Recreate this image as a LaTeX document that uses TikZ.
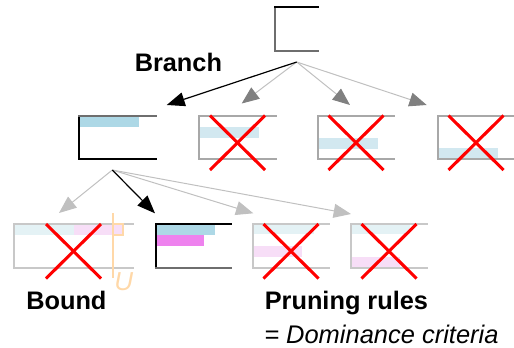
\documentclass[tikz,border=0pt]{standalone}
\usepackage{fontspec}
\setmainfont{Liberation Sans}
\usetikzlibrary{arrows.meta,calc}

\definecolor{barblue}{RGB}{173,216,230}
\definecolor{barblueF}{RGB}{210,232,240}
\definecolor{barcyanF}{RGB}{228,242,245}
\definecolor{barviolet}{RGB}{238,130,238}
\definecolor{barpinkF}{RGB}{247,222,247}
\definecolor{edgedark}{RGB}{110,110,110}
\definecolor{edgemid}{RGB}{168,168,168}
\definecolor{edgelight}{RGB}{200,200,200}
\definecolor{linklight}{RGB}{192,192,192}
\definecolor{headdark}{RGB}{128,128,128}
\definecolor{boundorange}{RGB}{255,216,168}

% open-right box: top, left and bottom edges of a slot node
\newcommand\bracketbox[2]{\draw[#2] (#1.north east) -- (#1.north west) -- (#1.south west) -- (#1.south east);}

\begin{document}
\begin{tikzpicture}[x=0.75pt,y=-0.75pt,
  slot/.style={rectangle,inner sep=0,outer sep=0,anchor=north west},
  edge/.style={line width=1.1pt,line cap=rect},
  cross/.style={draw=red,line width=2.3pt},
  lbl/.style={inner sep=0,anchor=base west,font=\fontsize{19pt}{22pt}\selectfont\bfseries},
  note/.style={inner sep=0,anchor=base west,font=\fontsize{19.1pt}{22pt}\selectfont\itshape},
  tipk/.style={-{Triangle[length=13.5pt,width=10.5pt]}},
  strong/.style={tipk,draw=black,line width=0.9pt},
  weakA/.style={-{Triangle[length=13pt,width=10.5pt,color=headdark]},draw=linklight,line width=0.75pt},
  weakB/.style={-{Triangle[length=13pt,width=10.5pt,color=linklight]},draw=linklight,line width=0.75pt}
]
\useasboundingbox (0,0) rectangle (514,347);

% slots
\node[slot,minimum width=32.25pt,minimum height=33pt] (r0) at (275,7) {};
\node[slot,minimum width=57.75pt,minimum height=32.25pt] (b1) at (79,116) {};
\node[slot,minimum width=57.75pt,minimum height=32.25pt] (b2) at (199,116) {};
\node[slot,minimum width=57pt,minimum height=32.25pt] (b3) at (318,116) {};
\node[slot,minimum width=57pt,minimum height=32.25pt] (b4) at (438,116) {};
\node[slot,minimum width=89.25pt,minimum height=33pt] (c1) at (14,224) {};
\node[slot,minimum width=56.25pt,minimum height=33pt] (c2) at (156,224) {};
\node[slot,minimum width=57pt,minimum height=33pt] (c3) at (253,224) {};
\node[slot,minimum width=57pt,minimum height=33pt] (c4) at (351,224) {};

% bars
\fill[barblue]  (b1.north west) rectangle +(60,11);
\fill[barblueF] ($(b2.north west)+(0,11)$) rectangle +(60,11);
\fill[barblueF] ($(b3.north west)+(0,22)$) rectangle +(60,11);
\fill[barblueF] ($(b4.north west)+(0,32)$) rectangle +(60,11);

\fill[barcyanF] (c1.north west) rectangle +(60,11);
\fill[barpinkF] ($(c1.north west)+(60,0)$) rectangle +(49,11);
\fill[barblue]  (c2.north west) rectangle +(59,11);
\fill[barviolet] ($(c2.north west)+(0,11)$) rectangle +(48,11);
\fill[barcyanF] (c3.north west) rectangle +(61,10);
\fill[barpinkF] ($(c3.north west)+(0,22)$) rectangle +(49,11);
\fill[barcyanF] (c4.north west) rectangle +(59,10);
\fill[barpinkF] ($(c4.north west)+(0,33)$) rectangle +(49,11);

% box edges
\draw[edge,edgedark] (r0.north west) -- (r0.south west) -- (r0.south east);
\draw[edge,black] (r0.north west) -- (r0.north east);
\draw[edge,black] (b1.north west) -- (b1.south west) -- (b1.south east);
\draw[edge,edgedark] (b1.north west) -- (b1.north east);
\bracketbox{b2}{edge,edgemid}
\bracketbox{b3}{edge,edgemid}
\bracketbox{b4}{edge,edgemid}
\bracketbox{c1}{edge,edgelight}
\draw[edge,black] (c2.north east) -- (c2.north west) -- (c2.south west);
\draw[edge,edgedark] (c2.south west) -- (c2.south east);
\bracketbox{c3}{edge,edgelight}
\bracketbox{c4}{edge,edgelight}

% bound marker
\coordinate (ub) at (113,213);
\coordinate (ue) at (113,278);
\draw[boundorange,line width=1.3pt] (ub) -- (ue);
\draw[boundorange,line width=1.3pt] (113,224) -- (123,224) -- (123,235) -- (113,235);
\node[inner sep=0,anchor=base west,text=boundorange,font=\fontsize{19.5pt}{22pt}\selectfont\itshape] (ulabel) at (114,290) {U};

% crosses
\foreach \b in {b2,b3,b4,c1,c3,c4}{
  \draw[cross] ($(\b.center)+(-27.5,-22)$) -- ($(\b.center)+(27.5,32.5)$);
  \draw[cross] ($(\b.center)+(27.5,-22)$) -- ($(\b.center)+(-27.5,32.5)$);
}

% branching from the root
\coordinate (o1) at (296.7,62);
\coordinate (t1) at (166.7,105);
\coordinate (t2) at (241.7,103.5);
\coordinate (t3) at (350,105);
\coordinate (t4) at (426.7,105);
\draw[weakA] (o1) -- (t2);
\draw[weakA] (o1) -- (t3);
\draw[weakA] (o1) -- (t4);
\draw[strong] (o1) -- (t1);

% branching from the kept child
\coordinate (o2) at (112.3,170);
\coordinate (s1) at (59,213);
\coordinate (s2) at (155,213.3);
\coordinate (s3) at (253.3,213.3);
\coordinate (s4) at (351,214);
\draw[weakB] (o2) -- (s1);
\draw[weakB] (o2) -- (s3);
\draw[weakB] (o2) -- (s4);
\draw[strong] (o2) -- (s2);

% labels
\node[lbl] (branch) at (134.5,71.7) {Branch};
\node[lbl] (bound) at (26,309.3) {Bound};
\node[lbl] (pruning) at (264.5,309.8) {Pruning rules};
\node[note] (dominance) at (264,343) {= Dominance criteria};
\end{tikzpicture}
\end{document}
